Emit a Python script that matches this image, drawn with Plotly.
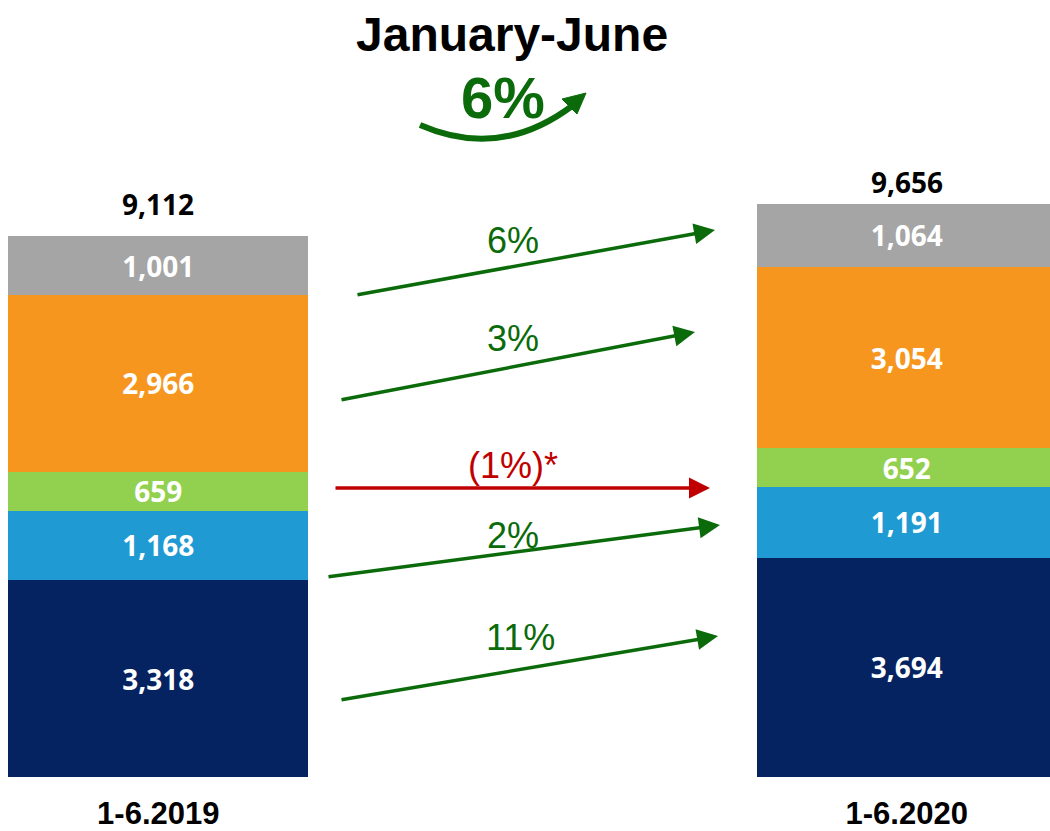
import plotly.graph_objects as go

# ---------------- data ----------------
periods = ["1-6.2019", "1-6.2020"]
segments = ["Segment 1", "Segment 2", "Segment 3", "Segment 4", "Segment 5"]  # bottom -> top
values_2019 = [3318, 1168, 659, 2966, 1001]
values_2020 = [3694, 1191, 652, 3054, 1064]
totals = [9112, 9656]
change_labels = ["11%", "2%", "(1%)*", "3%", "6%"]  # bottom -> top
total_change = "6%"
title_text = "January-June"

# ---------------- style ----------------
W, H = 1050, 831
M_T, M_B = 0, 54
PLOT_H = H - M_T - M_B       # plot bottom at page y = 777
seg_colors = ["#052261", "#1F9AD2", "#92D050", "#F7961F", "#A5A5A5"]
GREEN = "#0B6B0B"
RED = "#C00000"
change_colors = [GREEN, GREEN, RED, GREEN, GREEN]
# arrow geometry (page pixels): start (x,y) -> end (x,y), label (x,y)
arrow_px = [
    ((340, 700), (718, 636), (520, 637)),
    ((327, 577), (720, 525), (513, 535)),
    ((334, 488), (710, 488), (513, 465)),
    ((340, 400), (695, 332), (513, 338)),
    ((356, 295), (715, 230), (513, 241)),
]


def px(x):
    return x / W


def py(y):
    return (M_T + PLOT_H - y) / PLOT_H


x_pos = [0, 1]
UNIT = 906.7 - 158.3  # px between bar centers
BAR_W = 300 / UNIT

fig = go.Figure()
for i, seg in enumerate(segments):
    vals = [values_2019[i], values_2020[i]]
    fig.add_trace(go.Bar(
        x=x_pos, y=vals, name=seg, width=BAR_W,
        marker=dict(color=seg_colors[i], line=dict(width=0)),
        text=[f"{v:,}" for v in vals],
        textposition="inside", insidetextanchor="middle",
        textfont=dict(family="Open Sans", size=28, color="white", weight="bold"),
        hoverinfo="skip",
    ))

annotations = []
# totals on top
for xi, t, shift in zip(x_pos, totals, [11, 1]):
    annotations.append(dict(
        x=xi, y=t, xref="x", yref="y", text=f"{t:,}", showarrow=False,
        yanchor="bottom", yshift=shift,
        font=dict(family="Open Sans", size=28, color="black", weight="bold")))

# change arrows and labels
for (s, e, l), lab, col in zip(arrow_px, change_labels, change_colors):
    annotations.append(dict(
        x=px(e[0]), y=py(e[1]), xref="paper", yref="paper",
        ax=s[0] - e[0], ay=s[1] - e[1], axref="pixel", ayref="pixel",
        text="", showarrow=True, arrowhead=2, arrowsize=1.2, arrowwidth=3.5,
        arrowcolor=col))
    annotations.append(dict(
        x=px(l[0]), y=py(l[1]), xref="paper", yref="paper", text=lab,
        showarrow=False, xanchor="center", yanchor="middle",
        font=dict(family="Liberation Sans", size=36, color=col)))

# title and overall change
annotations.append(dict(
    x=px(512), y=py(35), xref="paper", yref="paper", text=f"<b>{title_text}</b>",
    showarrow=False, xanchor="center", yanchor="middle",
    font=dict(family="Liberation Sans", size=48, color="black")))
annotations.append(dict(
    x=px(503), y=py(97), xref="paper", yref="paper", text=f"<b>{total_change}</b>",
    showarrow=False, xanchor="center", yanchor="middle",
    font=dict(family="Liberation Sans", size=58, color=GREEN)))

shapes = [
    dict(type="path", xref="paper", yref="paper",
         path=f"M {px(420)},{py(125)} Q {px(500)},{py(160)} {px(572)},{py(106)}",
         line=dict(color=GREEN, width=6)),
    dict(type="path", xref="paper", yref="paper",
         path=f"M {px(586)},{py(93)} L {px(562)},{py(99)} L {px(577)},{py(114)} Z",
         line=dict(color=GREEN, width=1), fillcolor=GREEN),
]

x_lo = -158.3 / UNIT
x_hi = 1 + (W - 906.7) / UNIT
y_hi = PLOT_H / (541 / 9112)

fig.update_layout(
    width=W, height=H, barmode="stack", showlegend=False,
    margin=dict(l=0, r=0, t=M_T, b=M_B, autoexpand=False),
    paper_bgcolor="white", plot_bgcolor="white",
    annotations=annotations, shapes=shapes,
    uniformtext=dict(minsize=28, mode="show"),
    xaxis=dict(range=[x_lo, x_hi], tickvals=x_pos, ticktext=periods,
               showgrid=False, zeroline=False, showline=False, ticks="",
               ticklabelstandoff=15, automargin=False,
               tickfont=dict(family="Liberation Sans", size=31, color="black", weight="bold")),
    yaxis=dict(range=[0, y_hi], visible=False, showgrid=False, zeroline=False,
               automargin=False),
)

fig.write_html("out.html", config={"displayModeBar": False},
               post_script="document.body.style.margin='0px';")
